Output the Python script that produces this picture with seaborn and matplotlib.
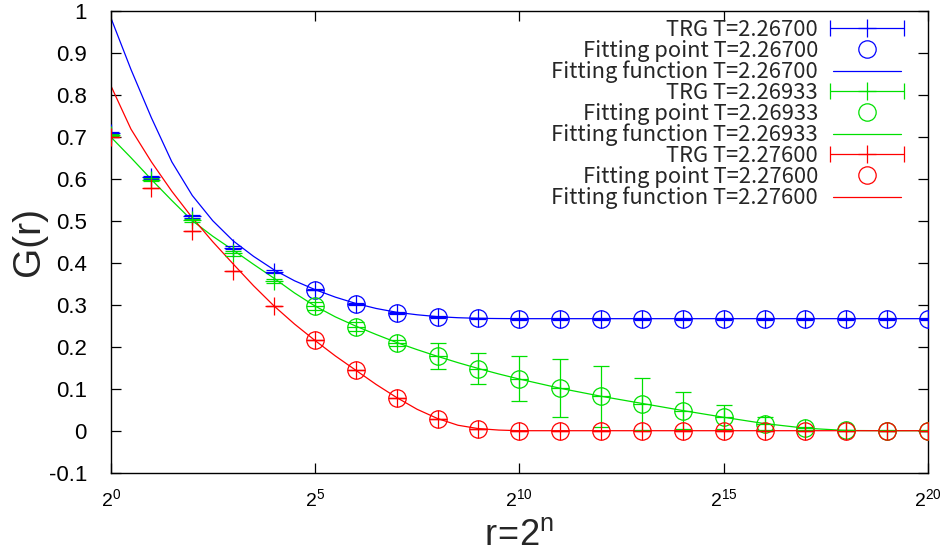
import numpy as np
import matplotlib
matplotlib.use('Agg')
import matplotlib.pyplot as plt
import seaborn as sns
from matplotlib.lines import Line2D
from matplotlib.container import ErrorbarContainer
from matplotlib.legend_handler import HandlerErrorbar

# n of r = 2^n
n_trg = np.arange(21)
n_fit = np.arange(5, 21)
n_curve = [0, 0.5, 1, 1.5, 2, 2.5, 3, 3.5, 4, 4.5, 5, 5.5, 6, 6.5, 7, 7.5, 8, 8.5, 9, 9.5,
           10, 11, 12, 13, 14, 15, 16, 17, 18, 19, 20]

temps = ['2.26700', '2.26933', '2.27600']
colors = ['#0000ff', '#00e000', '#ff0000']

# TRG data
trg_267 = [0.708, 0.603, 0.510, 0.436, 0.379, 0.336, 0.302, 0.280, 0.271, 0.2672, 0.2667,
           0.2667, 0.2667, 0.2667, 0.2667, 0.2667, 0.2667, 0.2667, 0.2667, 0.2667, 0.2667]
err_267 = [0.003, 0.004, 0.004, 0.003, 0.003, 0.002, 0.002, 0.002, 0.002, 0.002, 0.002,
           0.002, 0.002, 0.002, 0.002, 0.002, 0.002, 0.002, 0.002, 0.002, 0.002]
trg_269 = [0.704, 0.598, 0.501, 0.422, 0.357, 0.297, 0.248, 0.209, 0.177, 0.148, 0.124,
           0.102, 0.082, 0.064, 0.048, 0.032, 0.017, 0.006, 0.0005, 0.0, 0.0]
err_269 = [0.003, 0.004, 0.004, 0.005, 0.005, 0.010, 0.010, 0.007, 0.031, 0.038, 0.053,
           0.069, 0.072, 0.062, 0.045, 0.029, 0.016, 0.004, 0.002, 0.001, 0.001]
trg_276 = [0.699, 0.578, 0.475, 0.380, 0.296, 0.215, 0.144, 0.078, 0.029, 0.005, 0.0,
           0.0, 0.0, 0.0, 0.0, 0.0, 0.0, 0.0, 0.0, 0.0, 0.0]
err_276 = [0.0, 0.0, 0.0, 0.0, 0.0, 0.0, 0.0, 0.0, 0.0, 0.0, 0.0,
           0.0, 0.0, 0.0, 0.0, 0.0, 0.0, 0.0, 0.0, 0.0, 0.0]

# fitting functions
fit_267 = [0.985, 0.86, 0.745, 0.64, 0.56, 0.50, 0.452, 0.415, 0.383, 0.357, 0.336, 0.318,
           0.303, 0.291, 0.282, 0.276, 0.2715, 0.269, 0.2675, 0.267, 0.2667,
           0.2667, 0.2667, 0.2667, 0.2667, 0.2667, 0.2667, 0.2667, 0.2667, 0.2667, 0.2667]
fit_269 = [0.70, 0.65, 0.598, 0.548, 0.50, 0.463, 0.430, 0.396, 0.363, 0.328, 0.297, 0.271,
           0.249, 0.229, 0.210, 0.193, 0.177, 0.162, 0.148, 0.135, 0.123,
           0.101, 0.082, 0.065, 0.048, 0.032, 0.017, 0.006, 0.0005, 0.0, 0.0]
fit_276 = [0.823, 0.718, 0.64, 0.57, 0.507, 0.45, 0.397, 0.345, 0.297, 0.254, 0.215, 0.178,
           0.144, 0.11, 0.079, 0.051, 0.029, 0.013, 0.005, 0.0015, 0.0,
           0.0, 0.0, 0.0, 0.0, 0.0, 0.0, 0.0, 0.0, 0.0, 0.0]

y_ticks = [-0.1, 0.0, 0.1, 0.2, 0.3, 0.4, 0.5, 0.6, 0.7, 0.8, 0.9, 1.0]
x_tick_pow = [0, 5, 10, 15, 20]

sns.set_theme(style='ticks')
plt.rcParams['font.family'] = ['Liberation Sans Narrow', 'Liberation Sans', 'DejaVu Sans']
plt.rcParams['mathtext.fontset'] = 'custom'
plt.rcParams['mathtext.rm'] = 'Liberation Sans'
plt.rcParams['mathtext.it'] = 'Liberation Sans'
plt.rcParams['axes.linewidth'] = 1.0
plt.rcParams['axes.edgecolor'] = 'black'

fig, ax = plt.subplots(figsize=(9.48, 5.53), dpi=100)
fig.subplots_adjust(left=0.1166, right=0.9789, bottom=0.1452, top=0.9807)

series = [
    (temps[0], trg_267, err_267, fit_267, colors[0]),
    (temps[1], trg_269, err_269, fit_269, colors[1]),
    (temps[2], trg_276, err_276, fit_276, colors[2]),
]

handles, labels = [], []
for T, trg, err, fit, c in series:
    r = 2.0 ** n_trg
    ax.errorbar(r, trg, yerr=err, fmt='+', color=c, ms=13, mew=0.9,
                elinewidth=0.9, capsize=6, capthick=0.9, zorder=3)
    sns.lineplot(x=2.0 ** n_fit, y=trg[5:], ax=ax, color=c, marker='o', linestyle='',
                 markersize=12.5, markerfacecolor='none', markeredgecolor=c,
                 markeredgewidth=0.9, zorder=3)
    sns.lineplot(x=2.0 ** np.array(n_curve), y=fit, ax=ax, color=c, linewidth=0.9, zorder=2)

    eb = ax.errorbar([np.nan], [np.nan], xerr=[1.0], fmt='+', color=c, ms=13, mew=0.9,
                     elinewidth=0.9, capsize=6, capthick=0.9)
    pt = Line2D([], [], marker='o', linestyle='', markersize=12.5, markerfacecolor='none',
                markeredgecolor=c, markeredgewidth=0.9)
    ln = Line2D([], [], color=c, linewidth=0.9)
    handles += [eb, pt, ln]
    labels += ['TRG T=' + T, 'Fitting point T=' + T, 'Fitting function T=' + T]

ax.set_xscale('log', base=2)
ax.set_xlim(2.0 ** 0, 2.0 ** 20)
ax.set_ylim(-0.1, 1.0)
ax.set_xticks([2.0 ** p for p in x_tick_pow])
ax.set_xticklabels([r'$\mathrm{2^{%d}}$' % p for p in x_tick_pow])
ax.minorticks_off()
ax.set_yticks(y_ticks)
ax.set_yticklabels([f'{round(v, 1) + 0:g}' for v in y_ticks])

ax.tick_params(axis='both', which='major', direction='in', length=7.5, width=0.9,
               top=True, right=True, colors='black')
ax.tick_params(axis='y', labelsize=16, pad=17)
ax.tick_params(axis='x', labelsize=14, pad=11)

ax.set_xlabel(r'$\mathrm{r\!=\!2^{n}}$', fontsize=26)
ax.set_ylabel('G(r)', fontsize=28)
ax.xaxis.set_label_coords(0.5, -0.099)
ax.yaxis.set_label_coords(-0.10, 0.5)
ax.yaxis.label.set_va('center')

leg = ax.legend(handles, labels, handler_map={ErrorbarContainer: HandlerErrorbar(xerr_size=1.7)},
                loc='upper right', bbox_to_anchor=(0.967, 0.982), frameon=False,
                markerfirst=False, numpoints=1, handlelength=3.1, handletextpad=0.68,
                labelspacing=-0.055, borderpad=0, borderaxespad=0,
                prop={'family': ['Noto Sans CJK JP', 'DejaVu Sans'], 'size': 15.8})

# right-align the labels, gnuplot style
for col in leg._legend_handle_box.get_children():
    col.align = 'right'

fig.savefig('out.png', dpi=100)
